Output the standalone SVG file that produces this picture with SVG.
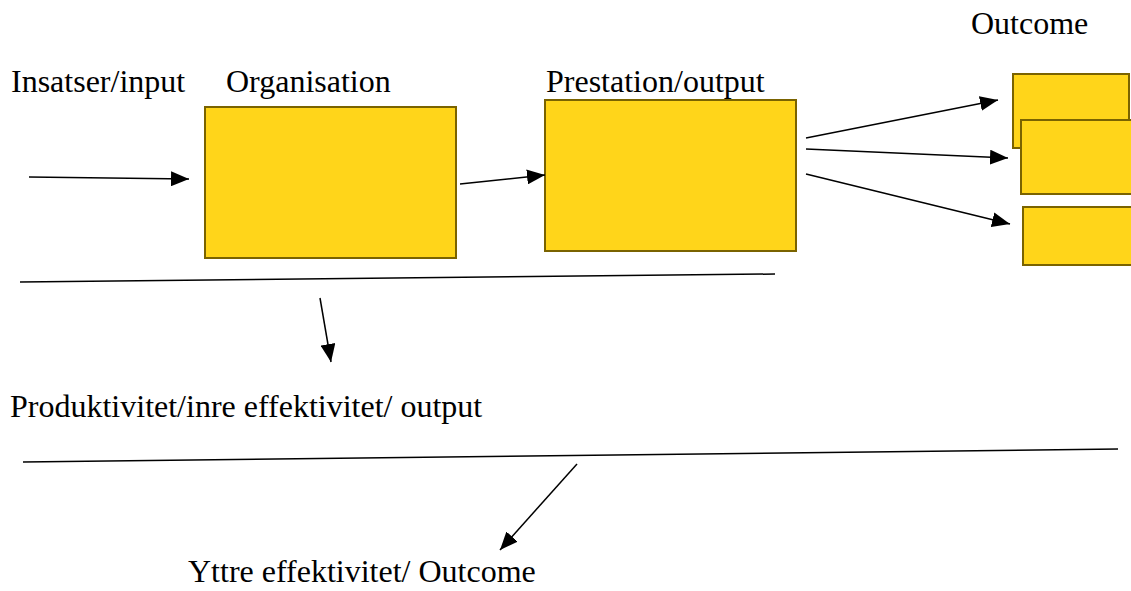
<svg xmlns="http://www.w3.org/2000/svg" width="1131" height="591" viewBox="0 0 1131 591">
<style>
.box{fill:#FFD51A;stroke:#7A6300;stroke-width:2}
.ln{stroke:#000;stroke-width:1.5;fill:none}
.ar{stroke:#000;stroke-width:1.5;fill:none;marker-end:url(#ah)}
</style>
<defs>
<marker id="ah" viewBox="0 0 10 10" refX="10" refY="5" markerWidth="18" markerHeight="15" preserveAspectRatio="none" markerUnits="userSpaceOnUse" orient="auto">
<path d="M0,0 L10,5 L0,10 Z" fill="#000"/>
</marker>
</defs>
<rect width="1131" height="591" fill="#fff"/>
<g id="labels" font-family="Liberation Serif, Times New Roman, serif" font-size="32" fill="#000">
<text x="971" y="34">Outcome</text>
<text x="11" y="92">Insatser/input</text>
<text x="226" y="92">Organisation</text>
<text x="546" y="92">Prestation/output</text>
<text x="10" y="417">Produktivitet/inre effektivitet/ output</text>
<text x="188" y="582">Yttre effektivitet/ Outcome</text>
</g>
<g id="organisation"><rect class="box" x="205" y="107" width="251" height="151"/></g>
<g id="prestation"><rect class="box" x="545" y="100" width="251" height="151"/></g>
<g id="outcome1"><rect class="box" x="1013" y="74" width="116" height="74"/></g>
<g id="outcome2"><rect class="box" x="1021" y="120" width="114" height="74"/></g>
<g id="outcome3"><rect class="box" x="1023" y="207" width="112" height="58"/></g>
<g id="connectors">
<line class="ar" x1="29" y1="177" x2="189" y2="179"/>
<line class="ar" x1="460" y1="184" x2="545" y2="175"/>
<line class="ar" x1="806" y1="138" x2="998" y2="100"/>
<line class="ar" x1="806" y1="149" x2="1008" y2="158"/>
<line class="ar" x1="806" y1="174" x2="1010" y2="224"/>
<line class="ln" x1="20" y1="282" x2="775" y2="274"/>
<line class="ar" x1="320" y1="298" x2="331" y2="362"/>
<line class="ln" x1="23" y1="462" x2="1118" y2="449"/>
<line class="ar" x1="577" y1="464" x2="500" y2="550"/>
</g>
</svg>
